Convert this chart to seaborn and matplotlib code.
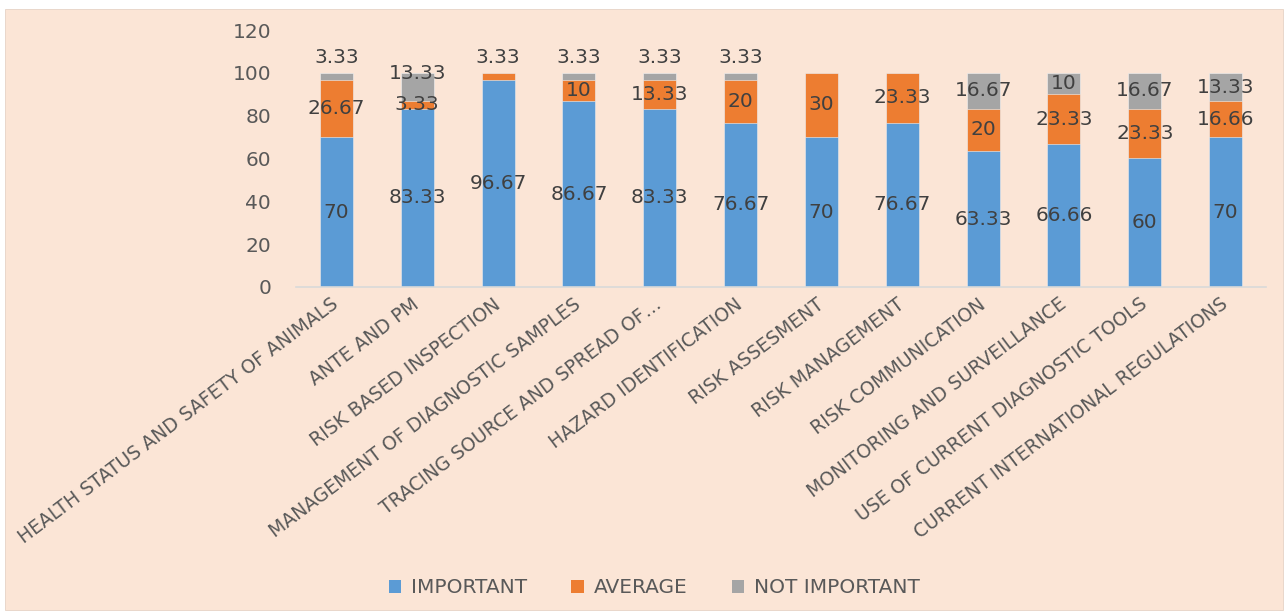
import matplotlib
matplotlib.use("Agg")
import matplotlib.pyplot as plt
import seaborn as sns
import pandas as pd
import numpy as np
from matplotlib.patches import Rectangle, Patch


# -----------------------------
# DATA
# -----------------------------
categories = [
    "HEALTH STATUS AND SAFETY OF ANIMALS",
    "ANTE AND PM",
    "RISK BASED INSPECTION",
    "MANAGEMENT OF DIAGNOSTIC SAMPLES",
    "TRACING SOURCE AND SPREAD OF…",
    "HAZARD IDENTIFICATION",
    "RISK ASSESMENT",
    "RISK MANAGEMENT",
    "RISK COMMUNICATION",
    "MONITORING AND SURVEILLANCE",
    "USE OF CURRENT DIAGNOSTIC TOOLS",
    "CURRENT INTERNATIONAL REGULATIONS",
]
important = [70, 83.33, 96.67, 86.67, 83.33, 76.67, 70, 76.67, 63.33, 66.66, 60, 70]
average = [26.67, 3.33, 3.33, 10, 13.33, 20, 30, 23.33, 20, 23.33, 23.33, 16.66]
not_important = [3.33, 13.33, 0, 3.33, 3.33, 3.33, 0, 0, 16.67, 10, 16.67, 13.33]

series_names = ["IMPORTANT", "AVERAGE", "NOT IMPORTANT"]


# -----------------------------
# CONFIG
# -----------------------------
sns.set_style("white")
plt.rcParams["font.family"] = ["DejaVu Sans"]

BG = "#FBE5D6"
COLORS = ["#5B9BD5", "#ED7D31", "#A5A5A5"]
TEXT = "#595959"
LABEL = "#404040"


def fmt(v):
    return f"{v:g}"


def main() -> None:
    df = pd.DataFrame({
        "category": categories,
        "important": important,
        "average": average,
        "not_important": not_important,
    })
    df["cum_avg"] = df["important"] + df["average"]
    df["cum_all"] = df["cum_avg"] + df["not_important"]

    fig = plt.figure(figsize=(12.88, 6.13), dpi=100)
    fig.patch.set_facecolor("white")
    W, H = 1288, 613
    bg = Rectangle((5 / W, 1 - 610 / H), (1283 - 5) / W, (610 - 9) / H,
                   transform=fig.transFigure, facecolor=BG,
                   edgecolor="#E6D3C6", linewidth=0.6, zorder=-10)
    fig.patches.append(bg)

    ax = fig.add_axes([296 / W, 1 - 287 / H, (1266 - 296) / W, (287 - 30) / H])
    ax.set_zorder(5)
    ax.set_facecolor("none")

    width = 0.41
    bar_kw = dict(width=width, saturation=1, ax=ax, order=categories,
                  edgecolor="#F3F3F3", linewidth=0.4)
    sns.barplot(data=df, x="category", y="cum_all", color=COLORS[2], **bar_kw)
    sns.barplot(data=df, x="category", y="cum_avg", color=COLORS[1], **bar_kw)
    sns.barplot(data=df, x="category", y="important", color=COLORS[0], **bar_kw)

    # data labels (small top segments sit above the bar, crowded ones pushed up)
    for i, row in df.iterrows():
        segs = [
            (0, row["important"]),
            (row["important"], row["average"]),
            (row["cum_avg"], row["not_important"]),
        ]
        prev_y = None
        for base, val in segs:
            if val <= 0:
                continue
            top = base + val
            if val < 5 and top >= 99.9:
                y = 107
            else:
                y = base + val / 2
                if prev_y is not None and y - prev_y < 10:
                    y = prev_y + 14.5
            prev_y = y
            ax.text(i, y, fmt(val), ha="center", va="center",
                    fontsize=14.5, color=LABEL)

    ax.set_ylim(0, 120)
    ax.set_xlim(-0.5, len(categories) - 0.5)
    ax.set_yticks(np.arange(0, 121, 20))
    ax.set_xlabel("")
    ax.set_ylabel("")
    for s in ["top", "right", "left"]:
        ax.spines[s].set_visible(False)
    ax.spines["bottom"].set_color("#D9D9D9")
    ax.spines["bottom"].set_linewidth(1.2)
    ax.tick_params(axis="both", length=0, colors=TEXT)
    ax.tick_params(axis="y", labelsize=14.5, pad=18)
    ax.tick_params(axis="x", labelsize=13.5, pad=11)
    ax.set_xticks(range(len(categories)))
    ax.set_xticklabels(categories, rotation=37, ha="right",
                       rotation_mode="anchor", va="center")

    handles = [Patch(facecolor=c, edgecolor="none") for c in COLORS]
    fig.legend(handles, series_names, loc="center", bbox_to_anchor=(0.508, 0.041),
               ncol=3, frameon=False, fontsize=14.5, handlelength=0.6,
               handleheight=0.6, handletextpad=0.5, columnspacing=2.2,
               labelcolor=TEXT)

    fig.savefig("out.png", dpi=100, facecolor=fig.get_facecolor())
    plt.close(fig)


if __name__ == "__main__":
    main()
